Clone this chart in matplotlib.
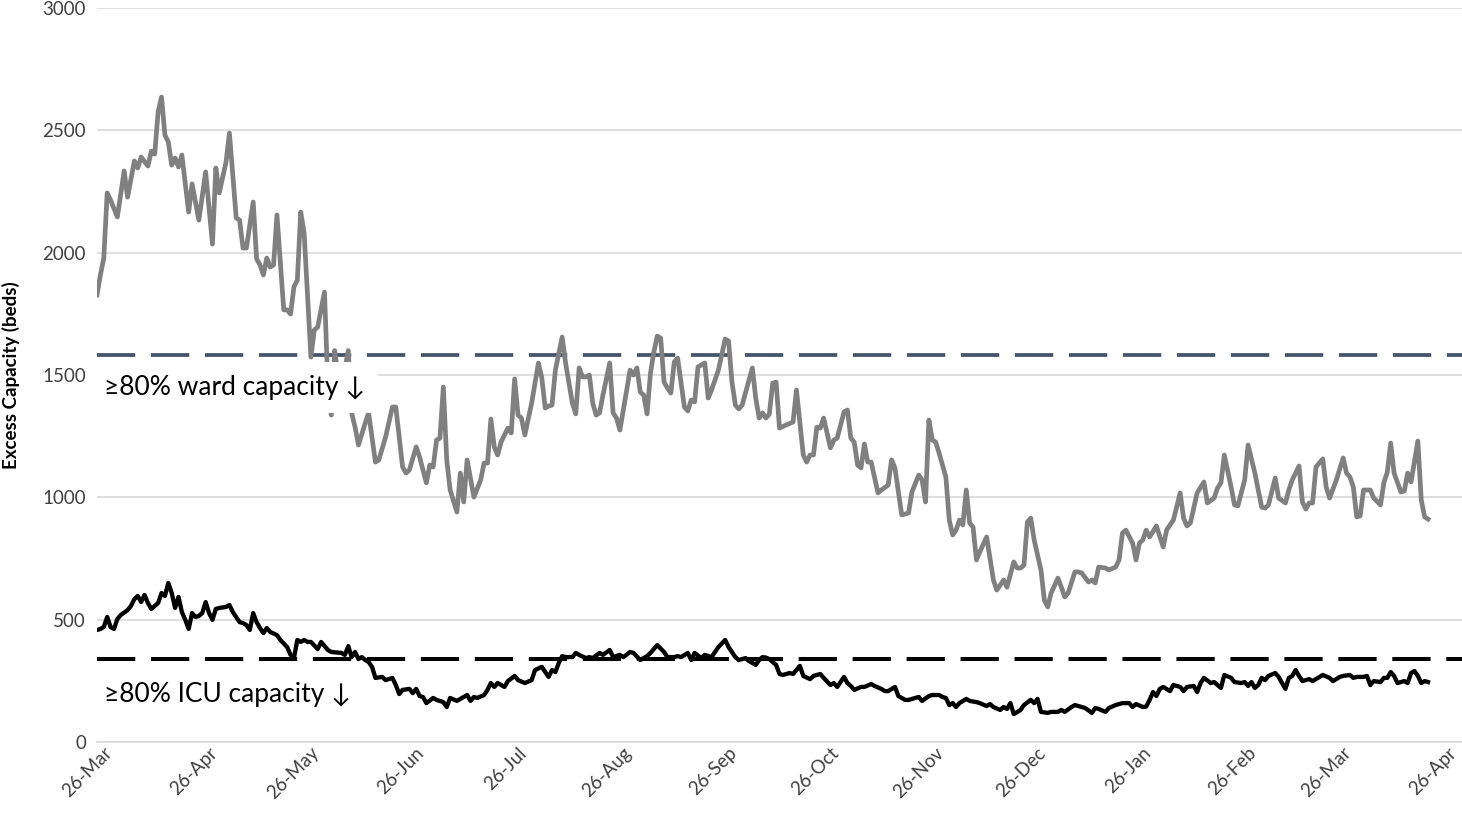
import numpy as np
import pandas as pd
import matplotlib
matplotlib.use('Agg')
import matplotlib.pyplot as plt
import matplotlib.dates as mdates
import matplotlib.transforms as mtransforms

# day 0 = 26-Mar-2020
start = np.datetime64('2020-03-26')

ward_days = [0, 1, 2, 3, 4, 6, 8, 9, 11, 12,
             13, 15, 16, 17, 18, 19, 20, 21, 22, 23,
             24, 25, 27, 28, 30, 32, 34, 35, 36, 38,
             39, 41, 42, 43, 44, 46, 47, 48, 49, 50,
             51, 52, 53, 55, 56, 57, 58, 59, 60, 61,
             63, 64, 65, 67, 68, 69, 70, 71, 72, 74,
             75, 76, 77, 79, 80, 82, 83, 85, 87, 88,
             90, 91, 92, 94, 95, 97, 98, 99, 100, 101,
             102, 103, 104, 106, 107, 108, 109, 111, 113, 114,
             115, 116, 117, 118, 119, 121, 122, 123, 124, 125,
             126, 128, 130, 131, 132, 133, 134, 135, 137, 138,
             140, 141, 142, 143, 144, 145, 146, 147, 148, 149,
             151, 152, 153, 154, 155, 157, 158, 159, 160, 161,
             162, 163, 164, 165, 166, 167, 168, 169, 170, 171,
             173, 174, 175, 176, 177, 179, 180, 181, 183, 185,
             186, 187, 188, 189, 190, 193, 194, 195, 196, 197,
             198, 199, 200, 201, 203, 205, 206, 208, 209, 210,
             211, 212, 213, 214, 216, 217, 218, 220, 221, 222,
             223, 224, 225, 226, 227, 228, 230, 231, 233, 234,
             235, 237, 239, 240, 242, 243, 244, 245, 246, 247,
             248, 249, 250, 251, 252, 253, 254, 255, 256, 257,
             258, 259, 260, 262, 264, 265, 267, 268, 270, 271,
             272, 273, 274, 275, 276, 278, 279, 280, 281, 283,
             284, 285, 286, 288, 289, 290, 292, 293, 294, 295,
             297, 298, 300, 301, 302, 303, 305, 306, 307, 308,
             309, 310, 312, 314, 315, 316, 317, 319, 320, 321,
             322, 324, 326, 327, 329, 330, 331, 332, 334, 335,
             336, 338, 339, 341, 343, 344, 345, 347, 348, 350,
             351, 352, 354, 355, 356, 357, 358, 359, 361, 362,
             363, 365, 367, 368, 369, 370, 371, 372, 373, 375,
             376, 378, 379, 380, 381, 382, 384, 385, 386, 387,
             389, 390, 391, 392]
ward_beds = [1827, 1909, 1978, 2244, 2215, 2146, 2334, 2227, 2375, 2346,
             2391, 2354, 2415, 2403, 2575, 2636, 2481, 2452, 2358, 2387,
             2350, 2399, 2166, 2281, 2133, 2330, 2035, 2346, 2244, 2370,
             2489, 2142, 2133, 2019, 2019, 2207, 1975, 1950, 1909, 1978,
             1941, 1950, 2154, 1766, 1766, 1749, 1860, 1888, 2166, 2080,
             1573, 1684, 1696, 1839, 1450, 1336, 1600, 1500, 1450, 1600,
             1345, 1287, 1214, 1304, 1345, 1144, 1153, 1247, 1369, 1369,
             1124, 1099, 1112, 1206, 1165, 1059, 1132, 1124, 1234, 1242,
             1451, 1153, 1030, 940, 1099, 981, 1153, 1001, 1071, 1140,
             1140, 1320, 1206, 1173, 1226, 1283, 1263, 1484, 1336, 1324,
             1255, 1385, 1549, 1488, 1365, 1373, 1377, 1520, 1655, 1549,
             1385, 1341, 1529, 1492, 1492, 1500, 1385, 1336, 1345, 1418,
             1549, 1345, 1324, 1275, 1357, 1520, 1500, 1529, 1430, 1418,
             1341, 1508, 1594, 1659, 1651, 1471, 1447, 1426, 1553, 1569,
             1369, 1353, 1398, 1390, 1533, 1549, 1406, 1439, 1520, 1647,
             1639, 1471, 1377, 1361, 1377, 1529, 1406, 1324, 1345, 1324,
             1340, 1467, 1471, 1283, 1296, 1308, 1439, 1173, 1144, 1173,
             1173, 1287, 1283, 1324, 1202, 1234, 1242, 1349, 1357, 1242,
             1226, 1132, 1120, 1218, 1144, 1144, 1018, 1030, 1050, 1153,
             1120, 928, 936, 1022, 1091, 1071, 981, 1316, 1234, 1226,
             1181, 1132, 1083, 907, 846, 866, 907, 887, 1030, 895,
             879, 744, 777, 838, 662, 621, 662, 633, 736, 711,
             711, 723, 899, 915, 826, 703, 580, 552, 609, 670,
             633, 593, 609, 695, 695, 691, 654, 662, 650, 715,
             711, 703, 715, 744, 854, 866, 813, 744, 813, 826,
             866, 838, 883, 797, 866, 887, 907, 1018, 915, 883,
             895, 1018, 1063, 977, 997, 1038, 1059, 1173, 1042, 969,
             965, 1071, 1214, 1099, 960, 956, 969, 1079, 997, 977,
             1030, 1071, 1128, 981, 952, 977, 977, 1124, 1157, 1042,
             997, 1071, 1161, 1099, 1083, 1042, 920, 924, 1030, 1030,
             997, 969, 1060, 1103, 1222, 1099, 1022, 1026, 1099, 1063,
             1230, 989, 920, 911]

icu_days = [0, 1, 2, 3, 4, 5, 6, 7, 9, 10,
            11, 12, 13, 14, 15, 16, 17, 18, 19, 20,
            21, 22, 23, 24, 25, 26, 27, 28, 29, 30,
            31, 32, 33, 34, 35, 36, 38, 39, 40, 42,
            43, 44, 45, 46, 47, 48, 49, 50, 51, 53,
            54, 56, 57, 58, 59, 60, 61, 62, 63, 65,
            66, 68, 69, 72, 73, 74, 75, 76, 77, 78,
            79, 80, 81, 82, 84, 85, 87, 88, 89, 90,
            92, 93, 94, 95, 96, 97, 99, 100, 102, 103,
            104, 106, 107, 109, 110, 111, 112, 114, 115, 116,
            117, 118, 120, 121, 123, 124, 126, 128, 129, 131,
            132, 133, 134, 135, 136, 137, 138, 140, 141, 142,
            144, 145, 146, 148, 149, 151, 152, 154, 155, 157,
            158, 160, 162, 163, 165, 167, 168, 170, 171, 172,
            174, 175, 176, 178, 179, 181, 183, 185, 186, 188,
            189, 191, 192, 194, 195, 196, 197, 198, 200, 201,
            202, 204, 205, 207, 208, 210, 211, 213, 214, 216,
            217, 218, 220, 221, 222, 223, 225, 226, 228, 229,
            231, 232, 233, 235, 236, 238, 239, 241, 242, 243,
            245, 246, 248, 249, 250, 251, 252, 253, 254, 256,
            257, 259, 260, 262, 263, 264, 266, 267, 268, 269,
            270, 272, 273, 275, 276, 277, 278, 280, 281, 283,
            284, 285, 287, 288, 290, 291, 293, 294, 295, 297,
            298, 300, 302, 304, 305, 306, 308, 309, 310, 311,
            312, 313, 314, 316, 317, 319, 320, 321, 323, 324,
            325, 326, 328, 329, 331, 332, 334, 335, 337, 338,
            339, 340, 341, 342, 343, 344, 345, 347, 348, 349,
            350, 351, 352, 353, 354, 355, 357, 358, 360, 361,
            363, 364, 366, 367, 369, 370, 371, 373, 374, 375,
            376, 378, 379, 380, 381, 382, 383, 385, 386, 387,
            388, 389, 390, 391, 392]
icu_beds = [458, 462, 470, 511, 470, 462, 503, 519, 539, 556,
            584, 597, 572, 601, 568, 544, 556, 568, 609, 597,
            650, 609, 548, 593, 531, 499, 462, 527, 511, 515,
            527, 572, 527, 499, 544, 548, 552, 560, 531, 490,
            486, 478, 458, 527, 490, 466, 445, 466, 450, 437,
            417, 388, 356, 343, 417, 409, 417, 409, 409, 380,
            409, 376, 368, 364, 356, 392, 347, 368, 339, 347,
            335, 327, 307, 262, 266, 253, 262, 233, 196, 213,
            217, 200, 217, 188, 184, 159, 180, 172, 163, 143,
            180, 168, 176, 192, 168, 184, 180, 192, 213, 241,
            225, 241, 225, 249, 270, 253, 241, 253, 294, 307,
            286, 266, 294, 286, 323, 351, 347, 347, 364, 356,
            343, 347, 343, 364, 356, 376, 347, 356, 347, 368,
            364, 335, 351, 364, 396, 368, 347, 347, 351, 347,
            364, 335, 364, 343, 356, 347, 388, 417, 388, 347,
            335, 343, 331, 315, 335, 347, 345, 339, 315, 278,
            274, 282, 278, 311, 270, 257, 270, 278, 262, 233,
            241, 225, 266, 241, 229, 213, 225, 225, 237, 229,
            217, 208, 208, 225, 188, 172, 172, 180, 184, 168,
            188, 192, 192, 184, 180, 151, 159, 143, 159, 176,
            168, 163, 159, 147, 155, 143, 131, 143, 135, 159,
            114, 131, 151, 172, 159, 176, 123, 119, 123, 123,
            131, 123, 143, 151, 143, 139, 119, 139, 135, 123,
            139, 151, 159, 159, 143, 155, 143, 145, 172, 204,
            188, 217, 225, 208, 233, 225, 208, 225, 229, 204,
            241, 262, 241, 245, 221, 274, 262, 245, 241, 245,
            229, 245, 221, 233, 262, 253, 270, 282, 266, 241,
            217, 262, 270, 294, 270, 249, 257, 249, 266, 274,
            262, 249, 266, 270, 274, 262, 266, 266, 270, 233,
            249, 245, 262, 262, 286, 270, 241, 249, 241, 282,
            290, 270, 241, 249, 245]

ward_threshold = 1580
icu_threshold = 340
ward_label = '≥80% ward capacity ↓'
icu_label = '≥80% ICU capacity ↓'

tick_dates = ['2020-03-26', '2020-04-26', '2020-05-26', '2020-06-26', '2020-07-26',
              '2020-08-26', '2020-09-26', '2020-10-26', '2020-11-26', '2020-12-26',
              '2021-01-26', '2021-02-26', '2021-03-26', '2021-04-26']

assert len(ward_days) == len(ward_beds)
assert len(icu_days) == len(icu_beds)

ward_x = start + np.array(ward_days).astype('timedelta64[D]')
icu_x = start + np.array(icu_days).astype('timedelta64[D]')
ticks = pd.to_datetime(tick_dates)

fonts = ['Lato', 'DejaVu Sans']
plt.rcParams['font.family'] = fonts

fig = plt.figure(figsize=(14.62, 8.23), dpi=100)
ax = fig.add_axes([97 / 1462, 81 / 823, 1365 / 1462, 734 / 823])

ax.plot(ward_x, ward_beds, color='#808080', lw=3.4, zorder=3, solid_joinstyle='round')
ax.plot(icu_x, icu_beds, color='black', lw=3.1, zorder=4, solid_joinstyle='round')

ax.axhline(ward_threshold, color='#44546a', lw=2.7, zorder=2,
           linestyle=(0, (10.2, 4.2)))
ax.axhline(icu_threshold, color='black', lw=2.9, zorder=2,
           linestyle=(0, (9.5, 3.9)))

ax.text(pd.Timestamp('2020-03-28'), 1450, ward_label, fontsize=19, va='center', ha='left',
        zorder=6, bbox=dict(boxstyle='square,pad=0.5', fc='white', ec='none'))
ax.text(pd.Timestamp('2020-03-28'), 195, icu_label, fontsize=19, va='center', ha='left',
        zorder=6, bbox=dict(boxstyle='square,pad=0.3', fc='white', ec='none'))

ax.set_ylim(0, 3000)
ax.set_yticks(range(0, 3001, 500))
ax.set_xlim(start - np.timedelta64(0, 'D'), start + np.timedelta64(402, 'D'))
ax.set_xticks(ticks)
ax.xaxis.set_major_formatter(mdates.DateFormatter('%d-%b'))
ax.grid(axis='y', color='#d9d9d9', lw=1.2, zorder=0)
ax.set_axisbelow(True)

for s in ['left', 'right', 'top']:
    ax.spines[s].set_visible(False)
ax.spines['bottom'].set_color('#d9d9d9')
ax.spines['bottom'].set_linewidth(1.2)

ax.tick_params(axis='both', length=0, labelsize=13.5, labelcolor='#404040')
ax.tick_params(axis='y', pad=8)
ax.tick_params(axis='x', pad=6)
offset = mtransforms.ScaledTranslation(0.12, 0, fig.dpi_scale_trans)
for lbl in ax.get_xticklabels():
    lbl.set_rotation(45)
    lbl.set_ha('right')
    lbl.set_va('center')
    lbl.set_rotation_mode('anchor')
    lbl.set_transform(lbl.get_transform() + offset)

fig.text(11 / 1462, 1 - 375 / 823, 'Excess Capacity (beds)', rotation=90, fontsize=13.5,
         fontweight='bold', va='center', ha='center')

fig.savefig('out.png', dpi=100)
